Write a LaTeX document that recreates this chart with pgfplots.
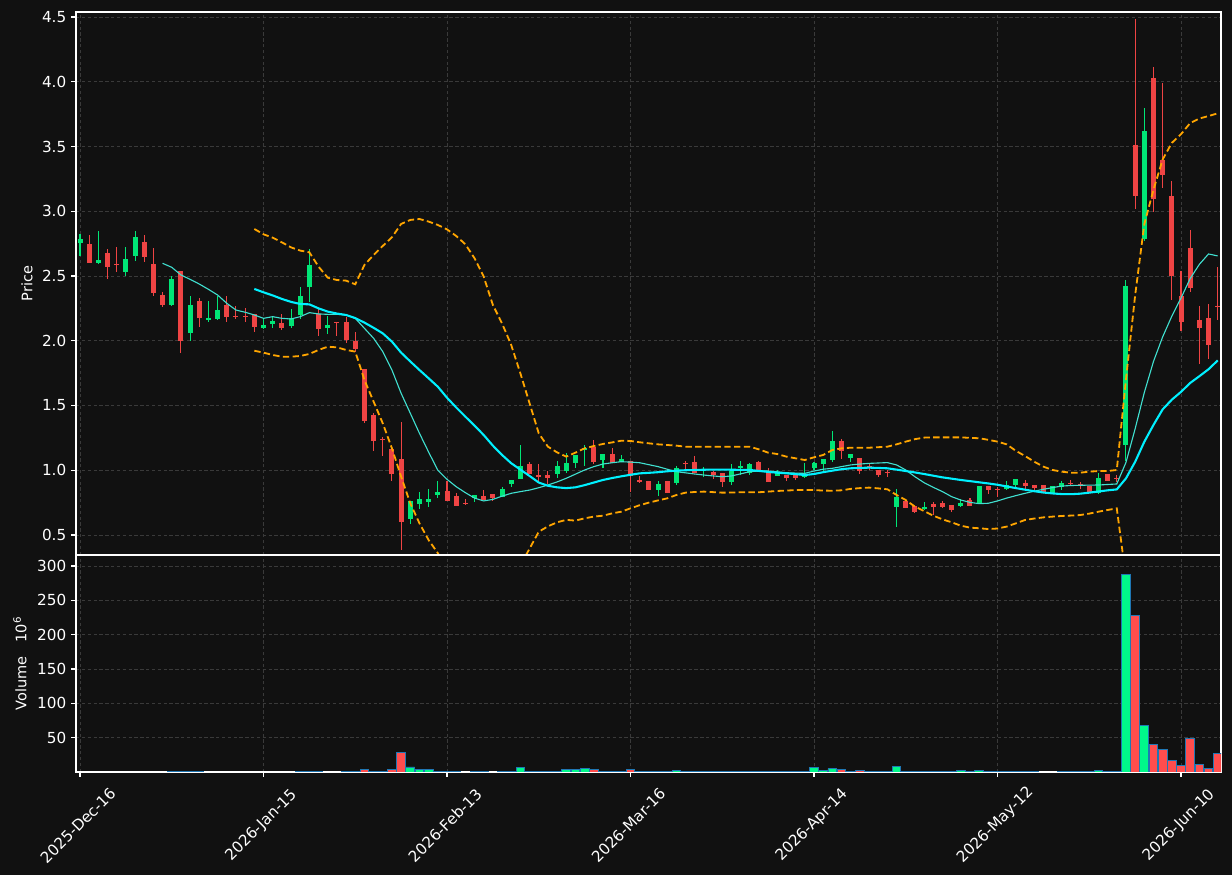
\documentclass[border=0pt]{standalone}
\usepackage{fontspec}
\setmainfont{DejaVu Sans}
\usepackage{pgfplots}
\pgfplotsset{compat=1.18}
\usepackage{pgfplotstable}
\definecolor{bgc}{HTML}{111111}
\definecolor{gridc}{HTML}{3A3A3A}
\definecolor{upc}{HTML}{00E676}
\definecolor{dnc}{HTML}{EF4444}
\definecolor{vupc}{HTML}{00F88A}
\definecolor{vdnc}{HTML}{FF4D4D}
\definecolor{edgec}{HTML}{1F77B4}
\definecolor{ma20c}{HTML}{00F0FF}
\definecolor{ma10c}{HTML}{40E0D0}
\definecolor{bbc}{HTML}{FFA500}

\pgfplotstableread{
i o h l c v
0 2.757 2.824 2.657 2.786 nan
2 2.603 2.845 2.600 2.623 nan
5 2.531 2.721 2.502 2.631 nan
6 2.657 2.845 2.618 2.801 nan
10 2.278 2.500 2.270 2.474 0.8
12 2.062 2.345 2.000 2.276 0.8
14 2.160 2.307 2.142 2.175 nan
15 2.168 2.348 2.160 2.237 nan
20 2.101 2.173 2.088 2.122 nan
21 2.132 2.191 2.101 2.153 nan
23 2.117 2.243 2.096 2.173 nan
24 2.199 2.413 2.166 2.346 0.8
25 2.415 2.706 2.302 2.585 0.8
27 2.101 2.191 2.055 2.122 nan
36 0.624 0.763 0.582 0.763 7.3
37 0.740 0.830 0.701 0.778 3.0
38 0.755 0.853 0.719 0.778 3.0
39 0.809 0.920 0.788 0.832 0.8
43 0.786 0.806 0.755 0.806 0.8
46 0.791 0.868 0.791 0.853 0.8
47 0.896 0.925 0.873 0.925 0.8
48 0.932 1.195 0.932 1.033 6.0
52 0.974 1.069 0.938 1.033 0.8
53 0.997 1.131 0.981 1.056 3.0
54 1.056 1.115 1.020 1.115 3.0
55 1.156 1.195 1.033 1.169 4.4
57 1.079 1.125 1.015 1.125 0.8
59 1.061 1.118 1.061 1.087 0.8
63 0.847 0.914 0.804 0.894 0.8
65 0.901 1.033 0.889 1.015 2.0
68 0.995 1.023 0.950 1.001 0.8
71 0.909 1.046 0.889 0.997 0.8
72 1.018 1.069 0.961 1.033 0.8
73 0.981 1.053 0.961 1.046 0.8
76 0.956 1.002 0.956 0.976 0.8
79 0.948 1.053 0.943 0.969 0.8
80 1.017 1.066 1.002 1.058 6.3
81 1.051 1.084 0.986 1.084 2.0
82 1.079 1.300 1.066 1.226 5.0
84 1.097 1.125 1.066 1.125 0.8
89 0.719 0.853 0.559 0.791 7.8
92 0.703 0.752 0.693 0.719 0.8
96 0.724 0.775 0.714 0.747 2.0
98 0.747 0.876 0.747 0.876 2.0
101 0.853 0.917 0.847 0.884 0.8
102 0.889 0.930 0.858 0.930 0.8
106 0.824 0.878 0.817 0.878 nan
107 0.873 0.920 0.847 0.901 0.8
111 0.827 0.976 0.817 0.940 2.0
114 1.198 2.468 1.072 2.419 287
116 2.785 3.797 2.770 3.622 68
}\upT

\pgfplotstableread{
i o h l c v
1 2.747 2.820 2.600 2.603 nan
3 2.677 2.708 2.474 2.572 nan
4 2.590 2.721 2.533 2.584 nan
7 2.762 2.814 2.605 2.649 nan
8 2.592 2.713 2.348 2.371 nan
9 2.353 2.379 2.263 2.278 nan
11 2.538 2.538 1.903 2.000 0.8
13 2.307 2.327 2.109 2.178 0.8
16 2.276 2.345 2.142 2.186 nan
17 2.191 2.268 2.165 2.185 nan
18 2.193 2.250 2.147 2.187 nan
19 2.204 2.204 2.065 2.109 nan
22 2.137 2.204 2.081 2.101 nan
26 2.207 2.243 2.034 2.091 0.8
28 2.146 2.146 2.034 2.140 nan
29 2.145 2.181 1.980 2.006 0.8
30 1.998 2.065 1.916 1.936 0.8
31 1.782 1.782 1.362 1.380 3.4
32 1.427 1.440 1.151 1.229 0.8
33 1.245 1.259 1.113 1.234 0.8
34 1.164 1.190 0.920 0.971 3.0
35 1.087 1.370 0.384 0.603 29
40 0.840 0.917 0.763 0.765 0.8
41 0.801 0.827 0.727 0.727 0.8
42 0.747 0.775 0.729 0.741 nan
44 0.799 0.847 0.768 0.768 0.8
45 0.814 0.814 0.760 0.788 nan
49 1.046 1.064 0.971 0.971 0.8
50 0.964 1.048 0.899 0.951 0.8
51 0.963 0.994 0.891 0.943 0.8
56 1.182 1.233 1.048 1.061 3.0
58 1.125 1.172 1.053 1.053 0.8
60 1.071 1.071 0.830 0.956 3.0
61 0.925 0.956 0.899 0.912 0.8
62 0.917 0.917 0.847 0.847 0.8
64 0.917 0.917 0.824 0.824 0.8
66 1.056 1.071 1.007 1.050 0.8
67 1.064 1.110 0.981 0.981 0.8
69 0.987 0.997 0.930 0.966 0.8
70 0.979 0.979 0.873 0.909 0.8
74 1.064 1.071 0.984 1.004 0.8
75 0.979 1.015 0.909 0.909 0.8
77 0.963 0.963 0.917 0.938 0.8
78 0.961 0.961 0.925 0.943 0.8
83 1.226 1.239 1.084 1.149 3.5
85 1.092 1.092 0.968 0.997 2.0
86 1.033 1.053 1.002 1.027 0.8
87 1.002 1.002 0.945 0.963 0.8
88 0.987 1.002 0.951 0.981 0.8
90 0.763 0.763 0.706 0.711 0.8
91 0.726 0.726 0.670 0.680 0.8
93 0.739 0.752 0.654 0.719 0.8
94 0.747 0.760 0.706 0.716 0.8
95 0.729 0.729 0.680 0.693 0.8
97 0.770 0.788 0.727 0.727 0.8
99 0.878 0.878 0.817 0.847 0.8
100 0.855 0.868 0.796 0.849 0.8
103 0.902 0.925 0.847 0.878 0.8
104 0.886 0.886 0.842 0.860 0.8
105 0.884 0.884 0.835 0.835 nan
108 0.902 0.922 0.878 0.896 0.8
109 0.896 0.912 0.858 0.881 0.8
110 0.878 0.878 0.830 0.830 0.8
112 0.971 0.971 0.917 0.917 0.8
113 0.943 0.961 0.912 0.937 0.8
115 3.515 4.487 3.015 3.120 228
117 4.025 4.113 2.997 3.093 40
118 3.394 3.990 3.179 3.278 33
119 3.120 3.233 2.312 2.503 16.6
120 2.342 2.535 2.079 2.143 9.3
121 2.720 2.852 2.374 2.406 48.8
122 2.164 2.272 1.821 2.097 11
123 2.178 2.285 1.861 1.966 5.5
124 2.265 2.570 2.162 2.259 27
}\dnT

\pgfplotstableread{
i ma10 ma20 bbu bbl
9 2.598 nan nan nan
10 2.567 nan nan nan
11 2.508 nan nan nan
12 2.474 nan nan nan
13 2.438 nan nan nan
14 2.397 nan nan nan
15 2.353 nan nan nan
16 2.289 nan nan nan
17 2.237 nan nan nan
18 2.220 nan nan nan
19 2.199 2.400 2.863 1.923
20 2.173 2.374 2.822 1.908
21 2.186 2.350 2.796 1.890
22 2.173 2.323 2.760 1.877
23 2.168 2.300 2.721 1.877
24 2.186 2.284 2.696 1.882
25 2.217 2.281 2.683 1.898
26 2.207 2.250 2.572 1.929
27 2.204 2.225 2.487 1.954
28 2.204 2.210 2.469 1.949
29 2.199 2.199 2.464 1.929
30 2.173 2.175 2.436 1.916
31 2.096 2.140 2.585 1.697
32 2.019 2.100 2.662 1.530
33 1.916 2.057 2.732 1.362
34 1.774 1.993 2.799 1.169
35 1.594 1.908 2.902 0.950
36 1.440 1.840 2.933 0.745
37 1.285 1.774 2.940 0.590
38 1.140 1.710 2.920 0.461
39 1.000 1.645 2.894 0.360
40 0.930 1.560 2.860 0.226
41 0.873 1.485 2.809 0.151
42 0.827 1.414 2.745 0.083
43 0.785 1.345 2.637 0.061
44 0.763 1.272 2.495 0.049
45 0.775 1.190 2.276 0.088
46 0.800 1.118 2.134 0.102
47 0.822 1.054 1.967 0.141
48 0.835 1.005 1.748 0.266
49 0.847 0.956 1.517 0.395
50 0.865 0.905 1.285 0.525
51 0.886 0.880 1.182 0.567
52 0.910 0.868 1.138 0.598
53 0.938 0.862 1.105 0.617
54 0.970 0.868 1.136 0.611
55 1.002 0.885 1.169 0.629
56 1.028 0.905 1.187 0.642
57 1.048 0.925 1.203 0.649
58 1.058 0.940 1.215 0.667
59 1.066 0.953 1.228 0.680
60 1.063 0.965 1.226 0.706
61 1.058 0.976 1.216 0.730
62 1.043 0.980 1.208 0.750
63 1.028 0.985 1.200 0.767
64 1.008 0.992 1.195 0.783
65 0.989 0.997 1.190 0.809
66 0.980 1.000 1.182 0.827
67 0.971 1.002 1.182 0.832
68 0.963 1.004 1.182 0.835
69 0.956 1.005 1.182 0.831
70 0.950 1.005 1.182 0.827
71 0.956 1.004 1.182 0.828
72 0.972 1.003 1.182 0.830
73 0.989 1.002 1.182 0.830
74 0.994 0.995 1.161 0.830
75 0.994 0.987 1.136 0.835
76 0.988 0.981 1.125 0.840
77 0.981 0.976 1.105 0.843
78 0.978 0.970 1.092 0.847
79 0.976 0.963 1.079 0.847
80 0.994 0.971 1.100 0.847
81 1.008 0.985 1.118 0.843
82 1.015 0.997 1.156 0.842
83 1.028 1.008 1.169 0.845
84 1.041 1.015 1.174 0.856
85 1.048 1.018 1.174 0.862
86 1.053 1.020 1.174 0.866
87 1.056 1.018 1.178 0.860
88 1.059 1.015 1.182 0.853
89 1.041 1.005 1.200 0.809
90 1.002 0.994 1.221 0.770
91 0.950 0.983 1.240 0.719
92 0.904 0.971 1.252 0.685
93 0.868 0.958 1.254 0.649
94 0.835 0.945 1.254 0.621
95 0.796 0.935 1.254 0.598
96 0.770 0.925 1.254 0.572
97 0.752 0.916 1.250 0.557
98 0.742 0.907 1.247 0.552
99 0.745 0.898 1.235 0.546
100 0.763 0.888 1.221 0.550
101 0.785 0.875 1.200 0.565
102 0.804 0.862 1.150 0.590
103 0.822 0.850 1.110 0.616
104 0.838 0.838 1.066 0.627
105 0.853 0.828 1.028 0.636
106 0.866 0.821 1.002 0.642
107 0.878 0.816 0.989 0.647
108 0.882 0.815 0.981 0.650
109 0.884 0.819 0.981 0.654
110 0.885 0.827 0.989 0.665
111 0.886 0.836 0.994 0.680
112 0.890 0.845 0.994 0.693
113 0.894 0.852 1.002 0.706
114 1.06 0.937 1.70 0.17
115 1.32 1.065 2.35 -0.25
116 1.60 1.220 2.90 -0.45
117 1.84 1.350 3.166 -0.40
118 2.03 1.470 3.40 -0.40
119 2.19 1.545 3.528 -0.39
120 2.33 1.605 3.595 -0.35
121 2.48 1.674 3.681 -0.31
122 2.59 1.726 3.716 -0.26
123 2.67 1.780 3.735 -0.17
124 2.655 1.848 3.756 -0.06
}\indT

\pgfplotsset{
  myax/.style={
    scale only axis, width=824.4bp,
    xmin=-0.436, xmax=124.36,
    axis background/.style={fill=bgc},
    axis line style={draw=white, line width=0.8bp},
    grid=major,
    major grid style={draw=gridc, dash pattern=on 2.4bp off 1.8bp, line width=0.6bp},
    tick align=outside,
    ytick pos=left, xtick pos=bottom,
    major tick length=3.5bp,
    tick style={draw=white, line width=0.8bp},
    xtick={0,20,40,60,80,100,120},
    ticklabel style={font=\fontsize{11}{13}\selectfont, text=white},
    /pgf/number format/assume math mode=true,
    label style={font=\fontsize{10.5}{12}\selectfont, text=white},
  },
  wick/.style={draw=none, mark=none, forget plot,
    error bars/.cd, y dir=both, y explicit, error mark=none,
    error bar style={draw=#1, line width=0.75bp, solid}},
  body/.style={draw=none, mark=none, forget plot,
    error bars/.cd, y dir=plus, y explicit, error mark=none,
    error bar style={draw=#1, line width=3.6bp, solid}},
}

\begin{document}
\begin{tikzpicture}
\fill[bgc] (0,0) rectangle (887.04bp,630bp);

\begin{axis}[myax, at={(54.72bp,230.4bp)}, anchor=south west,
  height=390.96bp, ymin=0.3456, ymax=4.5386,
  ytick={0.5,1.0,1.5,2.0,2.5,3.0,3.5,4.0,4.5},
  yticklabel style={/pgf/number format/.cd, fixed, fixed zerofill, precision=1},
  xticklabels={}, xtick style={draw=none},
  ylabel={Price},
  ylabel style={at={(axis description cs:-0.0428,0.5)}, anchor=center}]
\addplot[wick=upc] table[x=i, y=o, y error plus expr=\thisrow{h}-\thisrow{o}, y error minus expr=\thisrow{o}-\thisrow{l}] {\upT};
\addplot[body=upc] table[x=i, y=o, y error plus expr=\thisrow{c}-\thisrow{o}] {\upT};
\addplot[wick=dnc] table[x=i, y=o, y error plus expr=\thisrow{h}-\thisrow{o}, y error minus expr=\thisrow{o}-\thisrow{l}] {\dnT};
\addplot[body=dnc] table[x=i, y=c, y error plus expr=\thisrow{o}-\thisrow{c}] {\dnT};
\addplot[ma10c, line width=0.8bp, no markers] table[x=i, y=ma10] {\indT};
\addplot[ma20c, line width=1.5bp, no markers] table[x=i, y=ma20] {\indT};
\addplot[bbc, line width=1.3bp, dash pattern=on 4.6bp off 2.4bp, no markers] table[x=i, y=bbu] {\indT};
\addplot[bbc, line width=1.3bp, dash pattern=on 4.6bp off 2.4bp, no markers] table[x=i, y=bbl] {\indT};
\end{axis}

\begin{axis}[myax, at={(54.72bp,74.16bp)}, anchor=south west,
  height=156.24bp, ymin=0, ymax=316,
  ytick={50,100,150,200,250,300},
  xticklabels={2025-Dec-16,2026-Jan-15,2026-Feb-13,2026-Mar-16,2026-Apr-14,2026-May-12,2026-Jun-10},
  xticklabel style={yshift=-35bp, xshift=-1.5bp, rotate=45, anchor=center},
  ylabel={Volume\ \ \ 10\textsuperscript{6}},
  ylabel style={at={(axis description cs:-0.0489,0.5)}, anchor=center}]
\addplot[ybar, bar width=0.95, bar shift=0pt, fill=vupc, draw=edgec, line width=0.7bp] table[x=i, y=v] {\upT};
\addplot[ybar, bar width=0.95, bar shift=0pt, fill=vdnc, draw=edgec, line width=0.7bp] table[x=i, y=v] {\dnT};
\end{axis}

\pgfresetboundingbox
\path[use as bounding box] (0,0) rectangle (887.04bp,630bp);
\end{tikzpicture}
\end{document}
